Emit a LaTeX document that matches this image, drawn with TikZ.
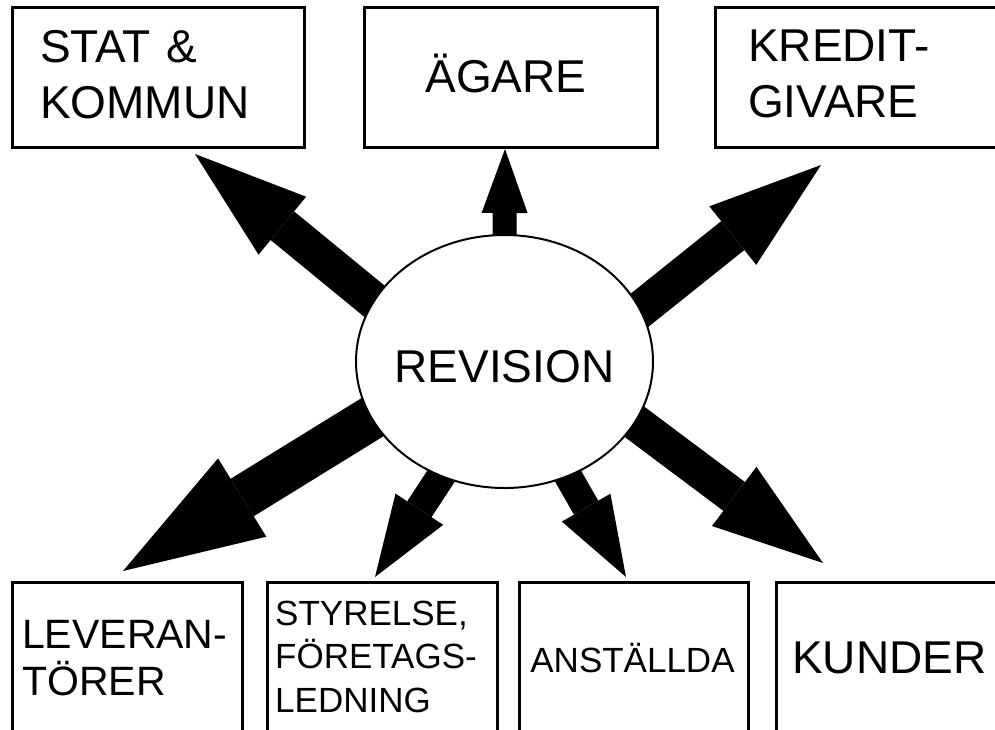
\documentclass[tikz,border=0pt]{standalone}
\usepackage{fontspec}
\setmainfont{Liberation Sans}
\usetikzlibrary{arrows.meta,shapes.geometric,calc,backgrounds}

\begin{document}
\begin{tikzpicture}[
    x=1pt, y=-1pt,
    box/.style={rectangle, draw, line width=3pt, inner sep=0pt},
    topbox/.style={box, minimum height=140pt},
    botbox/.style={box, minimum height=178pt},
    lbl/.style={inner sep=0pt, align=left},
    bigtxt/.style={font=\fontsize{46}{56}\selectfont},
    midtxt/.style={font=\fontsize{41}{47}\selectfont},
    smalltxt/.style={font=\fontsize{35}{43.5}\selectfont},
    fat/.style n args={3}{line width=#1pt, -{Triangle[length=#2pt, width=#3pt, line width=0pt]}}
]
\path[use as bounding box, clip] (0,0) rectangle (995,729);
% Centre
\node[ellipse, draw, line width=2pt, fill=white, minimum width=297pt, minimum height=253pt, inner xsep=-10pt, inner ysep=0pt, bigtxt, text height=43pt] (rev) at (504.5,361.5) {REVISION};
% Top row
\node[topbox, minimum width=292pt] (stat) at (158,77.5) {};
\node[topbox, minimum width=293pt] (agare) at (510.5,77.5) {};
\node[topbox, minimum width=295pt] (kredit) at (862.5,77.5) {};
\node[lbl, bigtxt, text width=240pt, anchor=base west] (statlbl) at (40,62) {STAT \&\\KOMMUN};
\node[lbl, bigtxt, anchor=base] (agarelbl) at (506,92) {ÄGARE};
\node[lbl, bigtxt, text width=240pt, anchor=base west] (kreditlbl) at (748,61) {KREDIT-\\GIVARE};
% Bottom row
\node[botbox, minimum width=230pt] (lev) at (127,671) {};
\node[botbox, minimum width=230pt] (sty) at (382,671) {};
\node[botbox, minimum width=229pt] (anst) at (633.5,671) {};
\node[botbox, minimum width=234pt] (kund) at (893,671) {};
\node[lbl, midtxt, text width=220pt, anchor=base west] (levlbl) at (22,648) {LEVERAN-\\TÖRER};
\node[lbl, smalltxt, text width=220pt, anchor=base west] (stylbl) at (275,625) {STYRELSE,\\FÖRETAGS-\\LEDNING};
\node[lbl, smalltxt, anchor=base] (anstlbl) at (632.5,672) {ANSTÄLLDA};
\node[lbl, bigtxt, anchor=base west] (kundlbl) at (792,673) {KUNDER};
% Arrow tips
\coordinate (statend) at (195,154);
\coordinate (agareend) at (505,149);
\coordinate (kreditend) at (821,165);
\coordinate (levend) at (123,571);
\coordinate (styend) at (375,577);
\coordinate (anstend) at (626,577);
\coordinate (kundend) at (823,563);
% Arrows
\begin{scope}[on background layer]
\draw[fat={37}{113}{75}] ($(rev.155.5)!-20pt!(statend)$) -- (statend);
\draw[fat={24}{64}{46}] ($(rev.90)!-20pt!(agareend)$) -- (agareend);
\draw[fat={37}{113}{75}] ($(rev.21.8)!-20pt!(kreditend)$) -- (kreditend);
\draw[fat={44}{140}{92}] ($(rev.203)!-20pt!(levend)$) -- (levend);
\draw[fat={29}{81}{57}] ($(rev.241.4)!-20pt!(styend)$) -- (styend);
\draw[fat={28}{80}{56}] ($(rev.299.4)!-20pt!(anstend)$) -- (anstend);
\draw[fat={36}{111}{74}] ($(rev.335.5)!-20pt!(kundend)$) -- (kundend);
\end{scope}
\end{tikzpicture}
\end{document}
